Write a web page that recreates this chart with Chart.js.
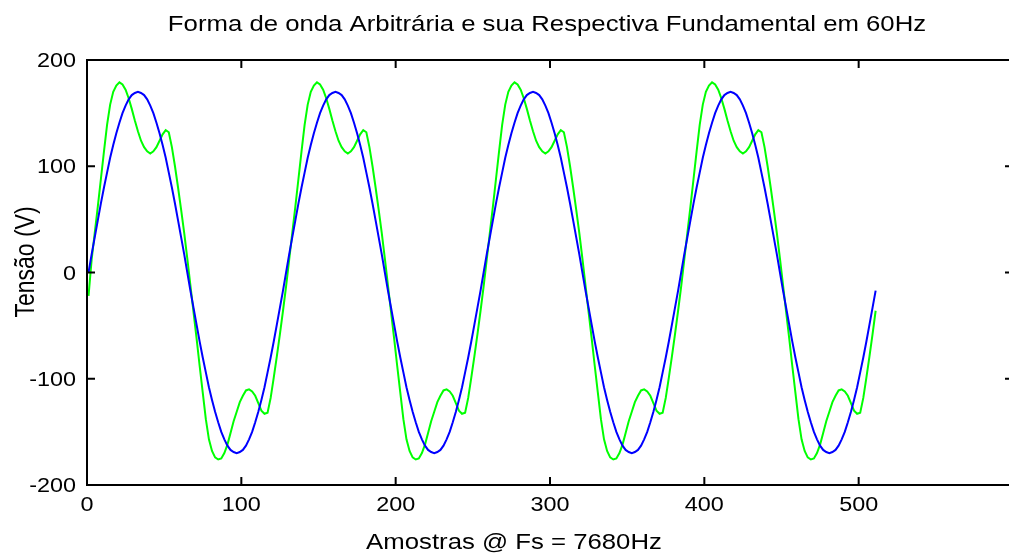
<!DOCTYPE html>
<html>
<head>
<meta charset="utf-8">
<title>Forma de onda</title>
<script src="https://cdn.jsdelivr.net/npm/chart.js@4/dist/chart.umd.min.js"></script>
<style>
  html, body { margin: 0; padding: 0; background: #fff; overflow: hidden; }
  #grafico { display: block; }
</style>
</head>
<body>
<canvas id="grafico" width="1030" height="556"></canvas>
<script>
// amostras: primeira amostra e passo entre pontos
const AMOSTRA_INICIAL = 1;
const PASSO_AMOSTRA = 2;

// forma de onda arbitraria (V), 4 ciclos de 60Hz
const arbitraria = [
  -22, 12, 37, 62, 88, 114, 139, 158, 170, 176, 179, 177, 172, 164, 154, 143, 133, 124, 118, 114, 112, 114, 118, 124, 130, 134, 132, 118, 100, 80, 59, 37,
  13, -12, -37, -62, -88, -113, -138, -157, -168, -174, -176, -175, -170, -162, -151, -140, -131, -122, -116, -111, -110, -112, -116, -123, -130, -133, -132, -118, -99, -79, -58, -36,
  -13, 12, 37, 62, 88, 114, 139, 158, 170, 176, 179, 177, 172, 164, 154, 143, 133, 124, 118, 114, 112, 114, 118, 124, 130, 134, 132, 118, 100, 80, 59, 37,
  13, -12, -37, -62, -88, -113, -138, -157, -168, -174, -176, -175, -170, -162, -151, -140, -131, -122, -116, -111, -110, -112, -116, -123, -130, -133, -132, -118, -99, -79, -58, -36,
  -13, 12, 37, 62, 88, 114, 139, 158, 170, 176, 179, 177, 172, 164, 154, 143, 133, 124, 118, 114, 112, 114, 118, 124, 130, 134, 132, 118, 100, 80, 59, 37,
  13, -12, -37, -62, -88, -113, -138, -157, -168, -174, -176, -175, -170, -162, -151, -140, -131, -122, -116, -111, -110, -112, -116, -123, -130, -133, -132, -118, -99, -79, -58, -36,
  -13, 12, 37, 62, 88, 114, 139, 158, 170, 176, 179, 177, 172, 164, 154, 143, 133, 124, 118, 114, 112, 114, 118, 124, 130, 134, 132, 118, 100, 80, 59, 37,
  13, -12, -37, -62, -88, -113, -138, -157, -168, -174, -176, -175, -170, -162, -151, -140, -131, -122, -116, -111, -110, -112, -116, -123, -130, -133, -132, -118, -99, -79, -58, -36
];

// fundamental em 60Hz (V)
const fundamental = [
  0, 17, 33, 49, 65, 80, 94, 108, 120, 131, 141, 150, 157, 163, 167, 169, 170, 169, 167, 163, 157, 150, 141, 131, 120, 108, 94, 80, 65, 49, 33, 17,
  0, -17, -33, -49, -65, -80, -94, -108, -120, -131, -141, -150, -157, -163, -167, -169, -170, -169, -167, -163, -157, -150, -141, -131, -120, -108, -94, -80, -65, -49, -33, -17,
  0, 17, 33, 49, 65, 80, 94, 108, 120, 131, 141, 150, 157, 163, 167, 169, 170, 169, 167, 163, 157, 150, 141, 131, 120, 108, 94, 80, 65, 49, 33, 17,
  0, -17, -33, -49, -65, -80, -94, -108, -120, -131, -141, -150, -157, -163, -167, -169, -170, -169, -167, -163, -157, -150, -141, -131, -120, -108, -94, -80, -65, -49, -33, -17,
  0, 17, 33, 49, 65, 80, 94, 108, 120, 131, 141, 150, 157, 163, 167, 169, 170, 169, 167, 163, 157, 150, 141, 131, 120, 108, 94, 80, 65, 49, 33, 17,
  0, -17, -33, -49, -65, -80, -94, -108, -120, -131, -141, -150, -157, -163, -167, -169, -170, -169, -167, -163, -157, -150, -141, -131, -120, -108, -94, -80, -65, -49, -33, -17,
  0, 17, 33, 49, 65, 80, 94, 108, 120, 131, 141, 150, 157, 163, 167, 169, 170, 169, 167, 163, 157, 150, 141, 131, 120, 108, 94, 80, 65, 49, 33, 17,
  0, -17, -33, -49, -65, -80, -94, -108, -120, -131, -141, -150, -157, -163, -167, -169, -170, -169, -167, -163, -157, -150, -141, -131, -120, -108, -94, -80, -65, -49, -33, -17
];

const ticksX = [0, 100, 200, 300, 400, 500];
const marcasX = [0, 100, 200, 300, 400, 500, 600];
const ticksY = [-200, -100, 0, 100, 200];

const titulo = "Forma de onda Arbitrária e sua Respectiva Fundamental em 60Hz";
const rotuloX = "Amostras @ Fs = 7680Hz";
const rotuloY = "Tensão (V)";

const FONTE = '"Liberation Sans", Arial, sans-serif';
const ESTICA = 1.17; // texto um pouco mais largo que alto

function pontos(valores){
  return valores.map((v, i) => ({ x: AMOSTRA_INICIAL + i * PASSO_AMOSTRA, y: v }));
}

function texto(ctx, str, x, y, tam, align, girar){
  ctx.save();
  ctx.translate(x, y);
  ctx.scale(ESTICA, 1);
  if (girar) ctx.rotate(-Math.PI / 2);
  ctx.font = tam + "px " + FONTE;
  ctx.fillStyle = "#000";
  ctx.textAlign = align;
  ctx.textBaseline = "alphabetic";
  ctx.fillText(str, 0, 0);
  ctx.restore();
}

// caixa dos eixos, marcas para dentro e textos estilo matlab
const eixosMatlab = {
  id: "eixosMatlab",
  afterDatasetsDraw(chart){
    const { ctx, chartArea: a, scales } = chart;
    const sx = scales.x, sy = scales.y;
    const tam = 8;

    ctx.save();
    ctx.strokeStyle = "#000";
    ctx.lineWidth = 2;
    ctx.strokeRect(a.left, a.top, a.right - a.left, a.bottom - a.top);

    ctx.beginPath();
    marcasX.forEach(v => {
      const px = sx.getPixelForValue(v);
      ctx.moveTo(px, a.bottom); ctx.lineTo(px, a.bottom - tam);
      ctx.moveTo(px, a.top); ctx.lineTo(px, a.top + tam);
    });
    ticksY.forEach(v => {
      const py = sy.getPixelForValue(v);
      ctx.moveTo(a.left, py); ctx.lineTo(a.left + tam, py);
      ctx.moveTo(a.right, py); ctx.lineTo(a.right - tam, py);
    });
    ctx.stroke();
    ctx.restore();

    ticksX.forEach(v => {
      texto(ctx, String(v), sx.getPixelForValue(v), a.bottom + 26, 20, "center");
    });
    ticksY.forEach(v => {
      texto(ctx, String(v), a.left - 11, sy.getPixelForValue(v) + 7, 20, "right");
    });
  },
  afterDraw(chart){
    const ctx = chart.ctx;
    texto(ctx, titulo, 547, 31, 22, "center");
    texto(ctx, rotuloX, 514, 549, 22, "center");
    texto(ctx, rotuloY, 34, 262, 23, "center", true);
  }
};

new Chart(document.getElementById("grafico"), {
  type: "line",
  data: {
    datasets: [
      {
        label: "Fundamental",
        data: pontos(fundamental),
        borderColor: "#0000ff",
        borderWidth: 2,
        pointRadius: 0,
        tension: 0
      },
      {
        label: "Arbitrária",
        data: pontos(arbitraria),
        borderColor: "#00ff00",
        borderWidth: 2,
        pointRadius: 0,
        tension: 0
      }
    ]
  },
  options: {
    responsive: false,
    animation: false,
    layout: { padding: { left: 87, right: 17, top: 60, bottom: 71 } },
    plugins: {
      legend: { display: false },
      tooltip: { enabled: false },
      title: { display: false }
    },
    scales: {
      x: { type: "linear", min: 0, max: 600, display: false },
      y: { type: "linear", min: -200, max: 200, display: false }
    }
  },
  plugins: [eixosMatlab]
});
</script>
</body>
</html>
